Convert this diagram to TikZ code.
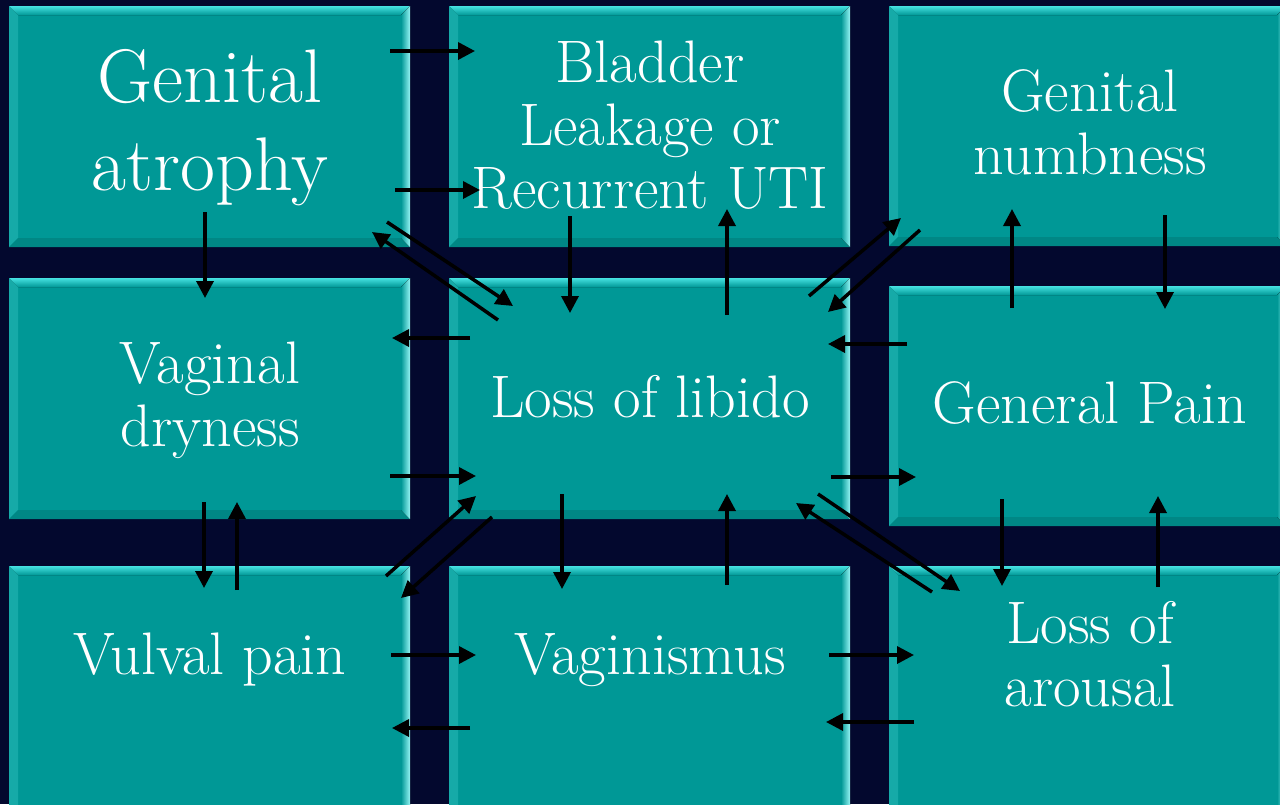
\documentclass[tikz,border=0pt]{standalone}
\usetikzlibrary{arrows.meta,calc}
\definecolor{navybg}{RGB}{3,8,46}
\definecolor{tealbox}{RGB}{0,152,150}
\definecolor{tealtop}{RGB}{70,225,225}
\definecolor{tealtopb}{RGB}{110,240,240}
\definecolor{tealleft}{RGB}{22,170,168}
\definecolor{tealright}{RGB}{150,245,245}
\definecolor{tealbot}{RGB}{0,135,133}
\tikzset{
  box/.style={rectangle, fill=tealbox, inner sep=0pt, outer sep=0pt, anchor=north west},
  lbl/.style={text=white, align=center, font=\fontsize{60}{63}\selectfont},
  biglbl/.style={text=white, align=center, font=\fontsize{76}{88}\selectfont},
  conn/.style={line width=3.5pt, -{Triangle[length=17pt,width=17pt]}, black}
}
\newcommand\bevbox[5]{%
  \node[box, minimum width={(#4-#2)*1pt}, minimum height={(#5-#3)*1pt}] (#1) at (#2,#3) {};
  \fill[top color=tealtop, middle color=tealtopb, bottom color=tealbox]
    (#2,#3) -- (#4,#3) -- (#4-9,#3+9) -- (#2+9,#3+9) -- cycle;
  \fill[tealleft] (#2,#3) -- (#2+9,#3+9) -- (#2+9,#5-9) -- (#2,#5) -- cycle;
  \fill[tealbot] (#2,#5) -- (#2+9,#5-9) -- (#4-9,#5-9) -- (#4,#5) -- cycle;
  \fill[left color=tealbox, right color=tealright] (#4,#3) -- (#4,#5) -- (#4-9,#5-9) -- (#4-9,#3+9) -- cycle;
}
\newcommand\arr[5]{%
  \coordinate (#1s) at (#2,#3);
  \coordinate (#1e) at (#4,#5);
  \draw[conn] (#1s) -- (#1e);
}
\begin{document}
\begin{tikzpicture}[x=1pt,y=-1pt]
\useasboundingbox (0,0) rectangle (1280,804);
\clip (0,0) rectangle (1280,804);
\fill[navybg] (0,0) rectangle (1280,804);
% boxes
\bevbox{ga}{9}{6}{410}{247}
\bevbox{bl}{449}{6}{850}{247}
\bevbox{gn}{889}{6}{1286}{246}
\bevbox{vd}{9}{278}{410}{519}
\bevbox{ll}{449}{278}{850}{519}
\bevbox{gp}{889}{286}{1286}{526}
\bevbox{vp}{9}{566}{410}{830}
\bevbox{va}{449}{566}{850}{830}
\bevbox{la}{889}{566}{1286}{830}
% texts
\node[biglbl] (tga) at (210,128) {Genital\\atrophy};
\node[lbl] (tbl) at (650,125) {Bladder\\Leakage or\\Recurrent UTI};
\node[lbl] (tgn) at (1090,122) {Genital\\numbness};
\node[lbl] (tvd) at (210,400) {Vaginal\\dryness};
\node[lbl] (tll) at (650,397) {Loss of libido};
\node[lbl] (tgp) at (1090,403) {General Pain};
\node[lbl] (tvp) at (210,660) {Vulval pain};
\node[lbl] (tva) at (650,660) {Vaginismus};
\node[lbl] (tla) at (1090,654) {Loss of\\arousal};
% connectors
\arr{a1}{390}{51}{475}{51}
\arr{a2}{395}{190}{480}{190}
\arr{a3}{205}{212}{205}{298}
\arr{a4}{387}{222}{513}{306}
\arr{a5}{498}{320}{372}{232}
\arr{a6}{570}{216}{570}{313}
\arr{a7}{727}{315}{727}{209}
\arr{a8}{809}{296}{901}{218}
\arr{a9}{920}{230}{828}{312}
\arr{a10}{1012}{308}{1012}{209}
\arr{a11}{1165}{215}{1165}{309}
\arr{a12}{907}{344}{828}{344}
\arr{a13}{470}{338}{392}{338}
\arr{a14}{390}{476}{476}{476}
\arr{a15}{831}{477}{916}{477}
\arr{a16}{1002}{499}{1002}{586}
\arr{a17}{1158}{587}{1158}{496}
\arr{a18}{818}{494}{960}{591}
\arr{a19}{932}{592}{796}{503}
\arr{a20}{204}{502}{204}{588}
\arr{a21}{237}{590}{237}{502}
\arr{a22}{386}{576}{476}{496}
\arr{a23}{492}{517}{401}{598}
\arr{a24}{562}{494}{562}{589}
\arr{a25}{727}{585}{727}{494}
\arr{a26}{391}{655}{476}{655}
\arr{a27}{470}{728}{392}{728}
\arr{a28}{829}{655}{914}{655}
\arr{a29}{914}{722}{826}{722}
\end{tikzpicture}
\end{document}
